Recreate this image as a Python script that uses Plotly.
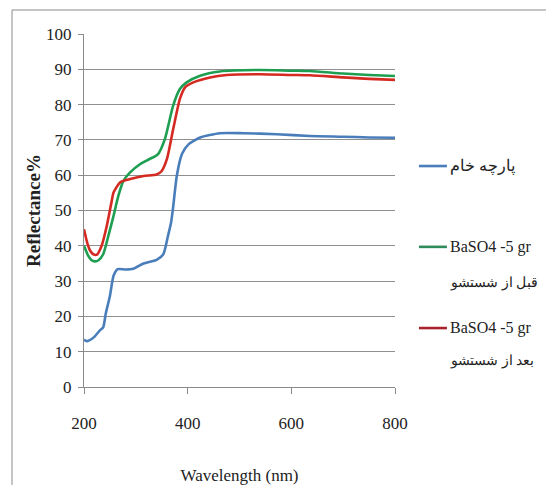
import plotly.graph_objects as go

# Wavelength (nm) / Reflectance %
raw_wl = [200, 205, 210, 220, 231, 237, 242, 250, 257, 265, 280, 295, 315, 340, 353, 362, 368, 372, 379, 389, 402, 424, 462, 507, 572, 636, 700, 750, 800]
raw_r  = [13.4, 13.0, 13.2, 14.2, 16.1, 16.9, 20.8, 25.8, 31.5, 33.4, 33.3, 33.5, 35.0, 36.0, 37.6, 42.8, 46.6, 51.0, 59.8, 66.0, 68.8, 70.7, 71.9, 71.9, 71.6, 71.1, 70.9, 70.7, 70.6]

before_wl = [200, 208, 214, 221, 228, 237, 247, 257, 266, 276, 289, 308, 327, 343, 356, 372, 385, 398, 424, 462, 540, 600, 636, 700, 750, 800]
before_r  = [40.0, 37.2, 36.0, 35.6, 35.9, 37.6, 42.8, 48.5, 54.0, 58.4, 60.8, 63.1, 64.6, 66.0, 70.2, 79.7, 84.4, 86.3, 88.2, 89.4, 89.8, 89.6, 89.5, 88.8, 88.4, 88.1]

after_wl = [200, 206, 212, 218, 225, 234, 244, 253, 257, 270, 289, 315, 340, 350, 360, 372, 385, 395, 411, 443, 475, 540, 600, 636, 700, 750, 800]
after_r  = [44.7, 41.0, 38.6, 37.6, 37.5, 40.0, 45.7, 52.3, 55.1, 58.0, 58.9, 59.8, 60.2, 61.2, 64.6, 73.0, 81.6, 84.9, 86.3, 87.7, 88.4, 88.6, 88.4, 88.3, 87.7, 87.3, 87.0]

series_names = ["پارچه خام", "BaSO4 -5 gr", "BaSO4 -5 gr"]
series_sub = ["", "قبل از شستشو", "بعد از شستشو"]
colors = ["#4A7EBB", "#1E9E50", "#D42A22"]
legend_colors = ["#4A7EBB", "#2E8B5A", "#A8222E"]

x_ticks = [200, 400, 600, 800]

serif = "Liberation Serif"

fig = go.Figure()
for wl, r, nm, c in zip([raw_wl, before_wl, after_wl], [raw_r, before_r, after_r], series_names, colors):
    fig.add_trace(go.Scatter(x=wl, y=r, name=nm, mode="lines", showlegend=False,
                             line=dict(color=c, width=2.6, shape="spline", smoothing=0.6)))

# hand-drawn legend (paper coords)
leg_y = [0.626, 0.397, 0.167]
sub_dy = [0, 0.102, 0.093]
shapes = [dict(type="rect", xref="paper", yref="paper",
               x0=-0.2315, x1=1.6, y0=-0.35, y1=1.068,
               line=dict(color="#8a8a8a", width=1), layer="below")]
annotations = []
for i in range(3):
    shapes.append(dict(type="line", xref="paper", yref="paper",
                       x0=1.077, x1=1.167, y0=leg_y[i], y1=leg_y[i],
                       line=dict(color=legend_colors[i], width=2.6)))
    annotations.append(dict(xref="paper", yref="paper", x=1.172, y=leg_y[i],
                            xanchor="left", yanchor="middle", showarrow=False,
                            text=series_names[i], font=dict(family=serif, size=16, color="#222")))
    if series_sub[i]:
        annotations.append(dict(xref="paper", yref="paper", x=1.172, y=leg_y[i] - sub_dy[i],
                                xanchor="left", yanchor="middle", showarrow=False,
                                text=series_sub[i], font=dict(family=serif, size=14, color="#222")))

fig.update_layout(
    width=546, height=485,
    margin=dict(l=84, r=151, t=34, b=98, autoexpand=False),
    paper_bgcolor="white", plot_bgcolor="white",
    font=dict(family=serif, size=16, color="#222"),
    showlegend=False,
    shapes=shapes, annotations=annotations,
)
fig.update_xaxes(range=[200, 800], tickvals=x_ticks, showgrid=False,
                 showline=True, linecolor="#8a8a8a", linewidth=1,
                 ticks="outside", ticklen=6, tickcolor="#8a8a8a",
                 ticklabelstandoff=15, tickfont=dict(family=serif, size=17),
                 title=dict(text="Wavelength (nm)", font=dict(family=serif, size=17), standoff=39),
                 zeroline=False, automargin=False)
fig.update_yaxes(range=[0, 100], dtick=10, showgrid=True, gridcolor="#8f8f8f", gridwidth=1,
                 showline=True, linecolor="#8a8a8a", linewidth=1,
                 ticks="outside", ticklen=5, tickcolor="#8a8a8a",
                 ticklabelstandoff=3, tickfont=dict(family=serif, size=17),
                 title=dict(text="<b>Reflectance%</b>", font=dict(family=serif, size=19), standoff=0),
                 zeroline=False, automargin=False)

fig.write_html("out.html", config={"displayModeBar": False},
               post_script="document.body.style.margin='0';document.body.style.overflow='hidden';")
